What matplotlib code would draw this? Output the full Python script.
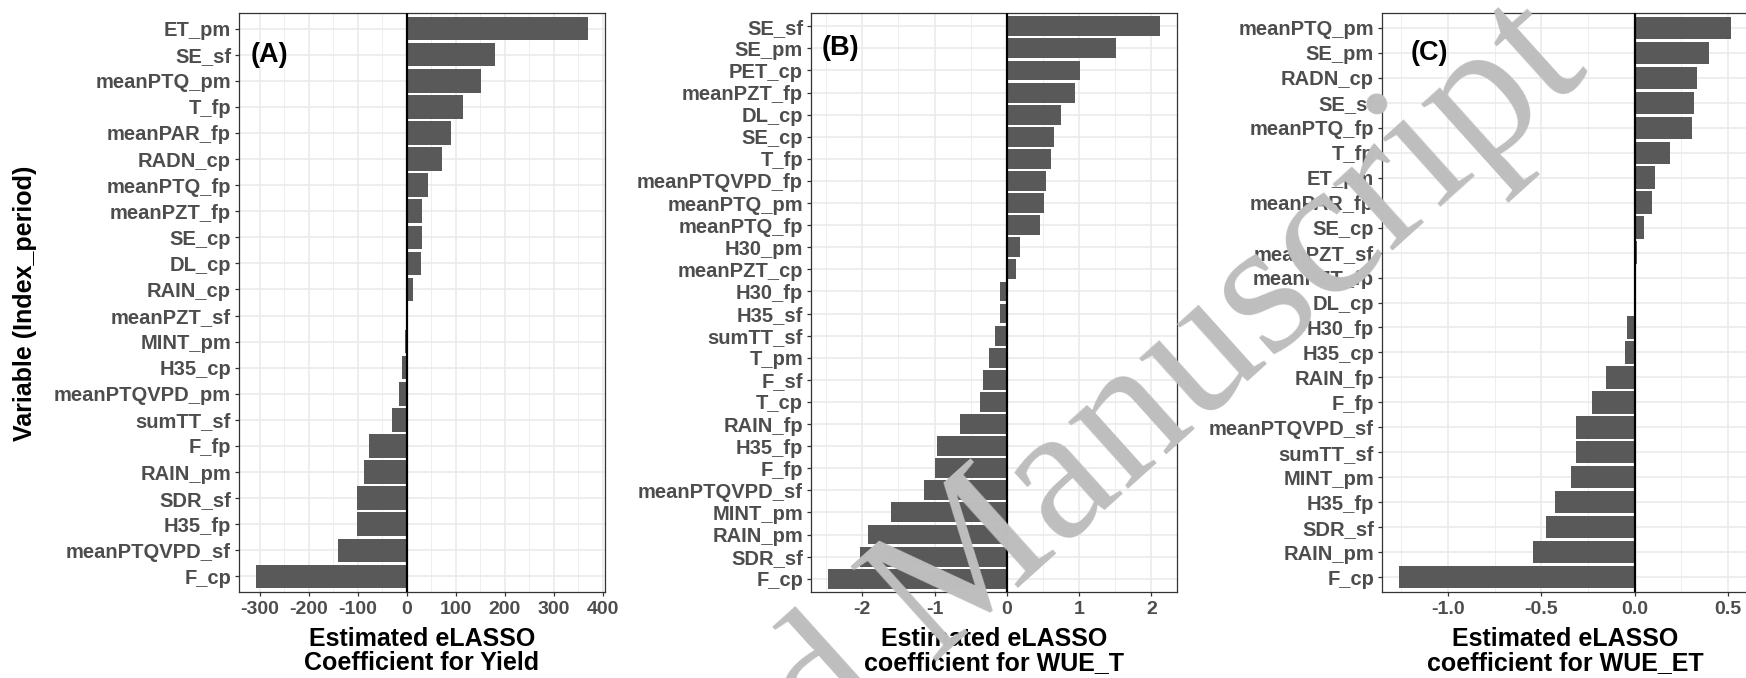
import matplotlib
matplotlib.use("Agg")
import matplotlib.pyplot as plt
from matplotlib.ticker import FixedLocator
import numpy as np

# ---------------- data ----------------
A_vars = ["ET_pm", "SE_sf", "meanPTQ_pm", "T_fp", "meanPAR_fp", "RADN_cp", "meanPTQ_fp",
          "meanPZT_fp", "SE_cp", "DL_cp", "RAIN_cp", "meanPZT_sf", "MINT_pm", "H35_cp",
          "meanPTQVPD_pm", "sumTT_sf", "F_fp", "RAIN_pm", "SDR_sf", "H35_fp",
          "meanPTQVPD_sf", "F_cp"]
A_vals = [371, 180, 152, 116, 90, 73, 43, 31, 31, 29, 13, 0.5, -4, -10, -16, -30,
          -76, -86, -102, -102, -139, -308]

B_vars = ["SE_sf", "SE_pm", "PET_cp", "meanPZT_fp", "DL_cp", "SE_cp", "T_fp",
          "meanPTQVPD_fp", "meanPTQ_pm", "meanPTQ_fp", "H30_pm", "meanPZT_cp", "H30_fp",
          "H35_sf", "sumTT_sf", "T_pm", "F_sf", "T_cp", "RAIN_fp", "H35_fp", "F_fp",
          "meanPTQVPD_sf", "MINT_pm", "RAIN_pm", "SDR_sf", "F_cp"]
B_vals = [2.125, 1.505, 1.017, 0.949, 0.753, 0.647, 0.609, 0.541, 0.519, 0.466, 0.18,
          0.127, -0.09, -0.10, -0.17, -0.24, -0.33, -0.37, -0.65, -0.96, -0.99, -1.15,
          -1.60, -1.92, -2.03, -2.48]

C_vars = ["meanPTQ_pm", "SE_pm", "RADN_cp", "SE_sf", "meanPTQ_fp", "T_fp", "ET_pm",
          "meanPAR_fp", "SE_cp", "meanPZT_sf", "meanPZT_fp", "DL_cp", "H30_fp", "H35_cp",
          "RAIN_fp", "F_fp", "meanPTQVPD_sf", "sumTT_sf", "MINT_pm", "H35_fp", "SDR_sf",
          "RAIN_pm", "F_cp"]
C_vals = [0.517, 0.399, 0.335, 0.316, 0.308, 0.189, 0.110, 0.094, 0.048, 0.012, 0.002,
          -0.002, -0.042, -0.05, -0.156, -0.231, -0.314, -0.314, -0.343, -0.424, -0.474,
          -0.542, -1.263]

A_ticks = [-300, -200, -100, 0, 100, 200, 300, 400]
A_ticklabels = ["-300", "-200", "-100", "0", "100", "200", "300", "400"]
B_ticks = [-2, -1, 0, 1, 2]
B_ticklabels = ["-2", "-1", "0", "1", "2"]
C_ticks = [-1.0, -0.5, 0.0, 0.5]
C_ticklabels = ["-1.0", "-0.5", "0.0", "0.5"]

titles = ["Estimated eLASSO\nCoefficient for Yield",
          "Estimated eLASSO\ncoefficient for WUE_T",
          "Estimated eLASSO\ncoefficient for WUE_ET"]
panel_tags = ["(A)", "(B)", "(C)"]
tag_x = [-318, -2.57, -1.20]
ylabel = "Variable (Index_period)"

# ---------------- style ----------------
W, H = 1746, 678
plt.rcParams['font.family'] = ['Liberation Sans', 'DejaVu Sans']
fig = plt.figure(figsize=(W / 100, H / 100), dpi=100)

bar_col = "#595959"
grid_col = "#EBEBEB"
border_col = "#333333"
tick_txt = "#4D4D4D"

ax_left_px = [239, 811, 1382]
ax_w_px = 366
ax_top_px, ax_bot_px = 13, 592

panels = [(A_vars, A_vals, A_ticks, A_ticklabels),
          (B_vars, B_vals, B_ticks, B_ticklabels),
          (C_vars, C_vals, C_ticks, C_ticklabels)]

for i, (vars_, vals, ticks, tlabels) in enumerate(panels):
    l = ax_left_px[i] / W
    b = (H - ax_bot_px) / H
    ax = fig.add_axes([l, b, ax_w_px / W, (ax_bot_px - ax_top_px) / H])
    n = len(vars_)
    y = np.arange(n)
    vmin, vmax = min(vals), max(vals)
    pad = 0.05 * (vmax - vmin)
    ax.set_xlim(vmin - pad, vmax + pad)
    ax.set_ylim(n - 1 + 0.6, -0.6)

    # grid (ggplot theme_bw style)
    step = ticks[1] - ticks[0]
    minors = [t + step / 2 for t in [ticks[0] - step] + ticks]
    x0, x1 = ax.get_xlim()
    for m in minors:
        if x0 < m < x1:
            ax.axvline(m, color=grid_col, lw=0.6, zorder=0)
    for t in ticks:
        ax.axvline(t, color=grid_col, lw=1.2, zorder=0)
    for yy in y:
        ax.axhline(yy, color=grid_col, lw=1.2, zorder=0)

    ax.barh(y, vals, height=0.9, color=bar_col, edgecolor='none', zorder=2)
    ax.axvline(0, color='black', lw=1.6, zorder=3)

    ax.set_yticks(y)
    ax.set_yticklabels(vars_)
    ax.xaxis.set_major_locator(FixedLocator(ticks))
    ax.set_xticklabels(tlabels)
    ax.tick_params(axis='both', which='major', length=3.2, width=0.9, color=border_col,
                   labelcolor=tick_txt)
    ax.tick_params(axis='y', pad=2.5, labelsize=14.5)
    ax.tick_params(axis='x', pad=3, labelsize=14)
    for lab in ax.get_xticklabels() + ax.get_yticklabels():
        lab.set_fontweight('bold')
    for sp in ax.spines.values():
        sp.set_color(border_col)
        sp.set_linewidth(0.9)

    ax.set_xlabel(titles[i], fontsize=18, fontweight='bold', color='black',
                  linespacing=1.0)
    ax.xaxis.set_label_coords(0.5, -0.060)

    ax.text(tag_x[i], 1, panel_tags[i], fontsize=19.5, fontweight='bold', color='black',
            ha='left', va='center', zorder=4)

fig.text(25 / W, (H - 303) / H, ylabel, rotation=90, fontsize=18, fontweight='bold',
         color='black', ha='center', va='center')

# watermark
fig.text(1560 / W, (H - 37) / H, "Accepted Manuscript", fontsize=140,
         family=['Liberation Serif', 'DejaVu Serif'], color='#BEBEBE',
         rotation=42, rotation_mode='anchor', ha='right', va='center', zorder=10)

fig.savefig("out.png", dpi=100)
